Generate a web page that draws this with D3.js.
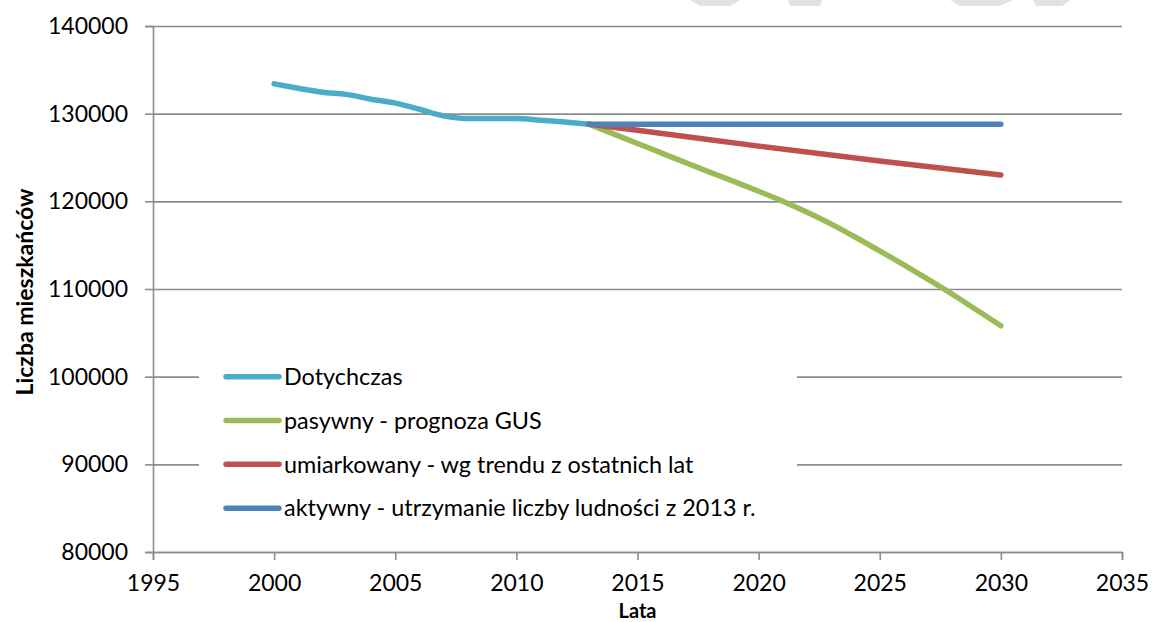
<!DOCTYPE html>
<html>
<head>
<meta charset="utf-8">
<script src="https://cdn.jsdelivr.net/npm/d3@7"></script>
<style>
  body { margin: 0; background: #fff; }
  text { font-family: Lato, "Open Sans", sans-serif; fill: #000; }
</style>
</head>
<body>
<div id="chart"></div>
<script>
// population of the municipality: history and three forecast scenarios
const yearsHist = [2000, 2001, 2002, 2003, 2004, 2005, 2006, 2007, 2008, 2009, 2010, 2011, 2012, 2013];
const valuesHist = [133400, 132900, 132450, 132200, 131650, 131200, 130500, 129750, 129450, 129450, 129450, 129250, 129050, 128800];

const yearsPassive = [2013, 2014, 2015, 2016, 2017, 2018, 2019, 2020, 2021, 2022, 2023, 2024, 2025, 2026, 2027, 2028, 2029, 2030];
const valuesPassive = [128800, 127700, 126600, 125500, 124400, 123300, 122250, 121150, 120000, 118750, 117400, 115900, 114350, 112750, 111100, 109400, 107600, 105800];

const yearsModerate = [2013, 2015, 2020, 2025, 2030];
const valuesModerate = [128800, 128100, 126300, 124600, 123000];

const yearsActive = [2013, 2030];
const valuesActive = [128800, 128800];

const seriesNames = [
  "Dotychczas",
  "pasywny - prognoza GUS",
  "umiarkowany - wg trendu z ostatnich lat",
  "aktywny - utrzymanie liczby ludności z 2013 r."
];
const seriesColors = ["#4bacc6", "#9bbb59", "#c0504d", "#4f81bd"];

const xTicks = [1995, 2000, 2005, 2010, 2015, 2020, 2025, 2030, 2035];
const yTicks = [80000, 90000, 100000, 110000, 120000, 130000, 140000];

const margin = { top: 26, right: 30, bottom: 70, left: 153 },
  width = 1152 - margin.left - margin.right,
  plotH = 526;

const svg = d3.select("#chart").append("svg")
  .attr("width", 1152)
  .attr("height", 622);

// faint grey watermark fragments along the top edge
const watermark = [
  [[690, 0], [740, 0], [730, 6], [700, 6]],
  [[788, 0], [822, 0], [820, 6], [790, 6]],
  [[950, 0], [1013, 0], [1000, 6], [960, 6]],
  [[1033, 0], [1070, 0], [1062, 6], [1036, 6]]
];
svg.selectAll("polygon.wm")
  .data(watermark)
  .join("polygon")
  .attr("class", "wm")
  .attr("points", (d) => d.map((p) => p.join(",")).join(" "))
  .attr("fill", "#e2e2e2");

const g = svg.append("g")
  .attr("transform", `translate(${margin.left},${margin.top})`);

const x = d3.scaleLinear().domain([1995, 2035]).range([0, width]);
const y = d3.scaleLinear().domain([80000, 140000]).range([plotH, 0]);

// gridlines
g.append("g")
  .call(d3.axisLeft(y).tickValues(yTicks).tickSize(-width).tickFormat(""))
  .call((s) => s.select(".domain").remove())
  .selectAll("line")
  .attr("stroke", "#8c8c8c")
  .attr("stroke-width", 1.6);

// Y axis
const yAxis = g.append("g")
  .call(d3.axisLeft(y).tickValues(yTicks).tickSize(8).tickPadding(17).tickFormat(d3.format("d")));
yAxis.select(".domain").attr("stroke", "#8c8c8c").attr("stroke-width", 1.6);
yAxis.selectAll("line").attr("stroke", "#8c8c8c").attr("stroke-width", 1.6);
yAxis.selectAll("text").style("font-size", "23px").style("font-family", "Lato, sans-serif");

// X axis
const xAxis = g.append("g")
  .attr("transform", `translate(0,${plotH})`)
  .call(d3.axisBottom(x).tickValues(xTicks).tickSize(8).tickPadding(15).tickFormat(d3.format("d")));
xAxis.select(".domain").attr("stroke", "#8c8c8c").attr("stroke-width", 1.6);
xAxis.selectAll("line").attr("stroke", "#8c8c8c").attr("stroke-width", 1.6);
xAxis.selectAll("text").style("font-size", "23px").style("font-family", "Lato, sans-serif");

// axis titles
svg.append("text")
  .attr("transform", `translate(33,${margin.top + plotH / 2 + 3}) rotate(-90)`)
  .attr("text-anchor", "middle")
  .style("font-size", "23px")
  .style("font-weight", "bold")
  .text("Liczba mieszkańców");

svg.append("text")
  .attr("x", margin.left + width / 2)
  .attr("y", 617.5)
  .attr("text-anchor", "middle")
  .style("font-size", "20px")
  .style("font-weight", "bold")
  .text("Lata");

// lines
const line = d3.line()
  .x((d) => x(d[0]))
  .y((d) => y(d[1]))
  .curve(d3.curveMonotoneX);

const series = [
  d3.zip(yearsHist, valuesHist),
  d3.zip(yearsPassive, valuesPassive),
  d3.zip(yearsModerate, valuesModerate),
  d3.zip(yearsActive, valuesActive)
];

g.selectAll("path.series")
  .data(series)
  .join("path")
  .attr("class", "series")
  .attr("d", line)
  .attr("fill", "none")
  .attr("stroke", (d, i) => seriesColors[i])
  .attr("stroke-width", 5.5)
  .attr("stroke-linecap", "round")
  .attr("stroke-linejoin", "round");

// legend
const legendY0 = y(100000);
const legendStep = (y(90000) - y(100000)) / 2;
const legend = svg.append("g")
  .attr("transform", `translate(0,${margin.top})`);

legend.append("rect")
  .attr("x", 199)
  .attr("y", legendY0 - 22)
  .attr("width", 598)
  .attr("height", legendStep * 3 + 44)
  .attr("fill", "#fff");

const item = legend.selectAll("g.item")
  .data(seriesNames)
  .join("g")
  .attr("class", "item")
  .attr("transform", (d, i) => `translate(0,${legendY0 + i * legendStep})`);

item.append("line")
  .attr("x1", 226)
  .attr("x2", 279)
  .attr("stroke", (d, i) => seriesColors[i])
  .attr("stroke-width", 5.5)
  .attr("stroke-linecap", "round");

item.append("text")
  .attr("x", 284)
  .attr("dy", "0.35em")
  .style("font-size", "23.4px")
  .text((d) => d);
</script>
</body>
</html>
